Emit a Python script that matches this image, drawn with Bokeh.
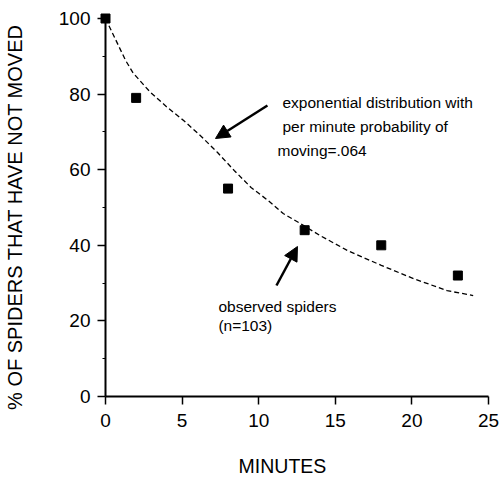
import math
from bokeh.plotting import figure
from bokeh.models import Range1d, FixedTicker, Label, Arrow, NormalHead
from bokeh.embed import file_html
from bokeh.resources import INLINE

# Observed spiders (% not moved) at minutes
obs_minutes = [0, 2, 8, 13, 18, 23]
obs_percent = [100, 79, 55, 44, 40, 32]

# Exponential distribution curve
fit_minutes = [0, 1.3, 1.8, 2.9, 4.0, 5.1, 6.2, 7.3, 8.4, 9.5, 10.6, 11.6,
               12.7, 14.0, 15.8, 18.0, 20.1, 22.3, 24.0]
fit_percent = [100, 89, 85.6, 80.6, 76.6, 73, 69, 64.6, 59.8, 55.3, 51.9, 48.4,
               45.8, 42.6, 38.6, 34.7, 31.2, 28, 26.7]

x_ticks = [0, 5, 10, 15, 20, 25]
y_ticks = [0, 20, 40, 60, 80, 100]
y_minor = [10, 30, 50, 70, 90]

FONT = "Liberation Sans"

W, H = 501, 478
# data -> pixel layout: x=0 at px 105 (15.32 px/unit); y=0 at px 396 (3.78 px/unit)
XPX, X0 = 15.32, 105.0
YPX, Y0 = 3.78, 396.0
x_start = -X0 / XPX
x_end = (W - X0) / XPX
y_end = Y0 / YPX
y_start = -(H - Y0) / YPX

p = figure(frame_width=W, frame_height=H,
           x_range=Range1d(x_start, x_end), y_range=Range1d(y_start, y_end),
           output_backend="svg", toolbar_location=None,
           min_border_left=0, min_border_right=0,
           min_border_top=0, min_border_bottom=0)
p.outline_line_color = None
p.xgrid.visible = False
p.ygrid.visible = False
p.background_fill_color = "white"
p.border_fill_color = "white"

for ax in (p.xaxis[0], p.yaxis[0]):
    ax.fixed_location = 0
    ax.axis_line_width = 2
    ax.axis_line_color = "black"
    ax.major_tick_line_width = 1.5
    ax.major_tick_line_color = "black"
    ax.minor_tick_line_width = 1.2
    ax.major_tick_in = 0
    ax.major_tick_out = 8
    ax.minor_tick_in = 0
    ax.minor_tick_out = 3
    ax.major_label_text_font = FONT
    ax.major_label_text_font_size = "19px"
    ax.major_label_text_color = "black"

p.xaxis[0].ticker = FixedTicker(ticks=x_ticks, minor_ticks=[])
p.yaxis[0].ticker = FixedTicker(ticks=y_ticks, minor_ticks=y_minor)
p.xaxis[0].bounds = (0, 25)
p.yaxis[0].bounds = (0, 100)
p.xaxis[0].major_label_standoff = 9
p.yaxis[0].major_label_standoff = 7

# fitted exponential curve
p.line(fit_minutes, fit_percent, line_color="black", line_width=1.3,
       line_dash="5 3")

# observed points
p.scatter(obs_minutes, obs_percent, marker="square", size=9,
          fill_color="black", line_color="black")

# axis titles
p.add_layout(Label(x=-5.875, y=47.5, text="% OF SPIDERS THAT HAVE NOT MOVED",
                   angle=math.pi / 2, text_align="center", text_baseline="middle",
                   text_font=FONT, text_font_size="20px", text_color="black"))
p.add_layout(Label(x=11.55, y=-18.3, text="MINUTES",
                   text_align="center", text_baseline="middle",
                   text_font=FONT, text_font_size="19.5px", text_color="black"))

# annotations
ann_lines = [("exponential distribution with", 11.55, 77.78),
             ("per minute probability of", 11.55, 71.4),
             ("moving=.064", 11.23, 64.95),
             ("observed spiders", 7.37, 23.8),
             ("(n=103)", 7.37, 18.8)]
for txt, tx, ty in ann_lines:
    p.add_layout(Label(x=tx, y=ty, text=txt, text_align="left",
                       text_baseline="alphabetic", text_font=FONT,
                       text_font_size="15.5px", text_color="black"))

for (x0, y0, x1, y1) in [(10.57, 76.98, 7.18, 68.25), (11.16, 29.37, 12.53, 39.68)]:
    p.add_layout(Arrow(x_start=x0, y_start=y0, x_end=x1, y_end=y1,
                       line_width=2.5, line_color="black",
                       end=NormalHead(size=14, fill_color="black",
                                      line_color="black", line_width=1)))

open("out.html", "w").write(file_html(p, INLINE))
